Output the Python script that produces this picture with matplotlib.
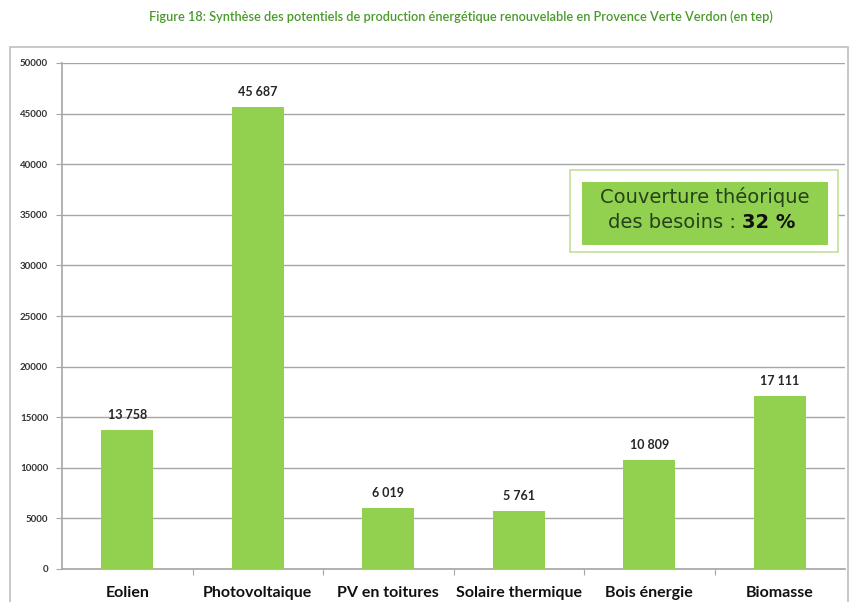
import matplotlib.pyplot as plt
from matplotlib.patches import Rectangle

categories = ['Eolien', 'Photovoltaique', 'PV en toitures', 'Solaire thermique', 'Bois énergie', 'Biomasse']
values = [13758, 45687, 6019, 5761, 10809, 17111]
labels = ['13 758', '45 687', '6 019', '5 761', '10 809', '17 111']
yticks = list(range(0, 50001, 5000))

green = '#92D050'
grey = '#a6a6a6'

fig = plt.figure(figsize=(8.56, 6.02), dpi=100)
fig.patch.set_facecolor('white')

# outer frame of the chart
fig.patches.append(Rectangle((10 / 856, -0.01), 838 / 856, (602 - 47) / 602 + 0.01,
                             transform=fig.transFigure, fill=False, edgecolor='#bfbfbf', lw=1.2))

fig.text(461 / 856, 1 - 17 / 602, 'Figure 18: Synthèse des potentiels de production énergétique renouvelable en Provence Verte Verdon (en tep)',
         ha='center', va='center', color='#4a9a2a', fontsize=9.2, family='Lato', fontweight='semibold')

ax = fig.add_axes([62 / 856, 1 - 569 / 602, (845 - 62) / 856, (569 - 63) / 602])
x = range(len(categories))
ax.bar(x, values, width=0.4, color=green, zorder=3)
for i, (v, lab) in enumerate(zip(values, labels)):
    ax.text(i, v + 900, lab, ha='center', va='bottom', fontsize=9, fontweight='bold',
            color='#262626', family='Lato')

ax.set_xlim(-0.5, len(categories) - 0.5)
ax.set_ylim(0, 50000)
ax.set_yticks(yticks)
ax.set_yticklabels([str(t) for t in yticks], fontsize=7, color='#333333', fontweight='bold', family='Lato')
ax.yaxis.grid(True, color=grey, lw=1, zorder=0)
ax.tick_params(axis='y', length=4, color=grey, pad=6)

ax.set_xticks([i + 0.5 for i in range(len(categories) - 1)])
ax.set_xticklabels([])
ax.tick_params(axis='x', length=4, color=grey)
for i, c in enumerate(categories):
    ax.text(i, -0.055, c, transform=ax.get_xaxis_transform(), ha='center', va='baseline',
            fontsize=11.5, fontweight='bold', color='#111111', family='Lato')

for s in ['top', 'right']:
    ax.spines[s].set_visible(False)
for s in ['left', 'bottom']:
    ax.spines[s].set_color(grey)
    ax.spines[s].set_linewidth(1.2)

# callout box
fig.patches.append(Rectangle((570 / 856, 1 - 252 / 602), 268 / 856, 82 / 602,
                             transform=fig.transFigure, facecolor='white', edgecolor='#c3df9a', lw=1.2, zorder=5))
fig.patches.append(Rectangle((582 / 856, 1 - 245 / 602), 246 / 856, 63 / 602,
                             transform=fig.transFigure, facecolor=green, edgecolor='none', zorder=6))
fig.text(705 / 856, 1 - 197 / 602, 'Couverture théorique', ha='center', va='center',
         fontsize=14, color='#25421a', zorder=7)
fig.text(742 / 856, 1 - 223 / 602, 'des besoins : ', ha='right', va='center',
         fontsize=14, color='#25421a', zorder=7)
fig.text(742 / 856, 1 - 223 / 602, '32 %', ha='left', va='center',
         fontsize=14, fontweight='bold', color='#111111', zorder=7)

fig.savefig('out.png', dpi=100)
